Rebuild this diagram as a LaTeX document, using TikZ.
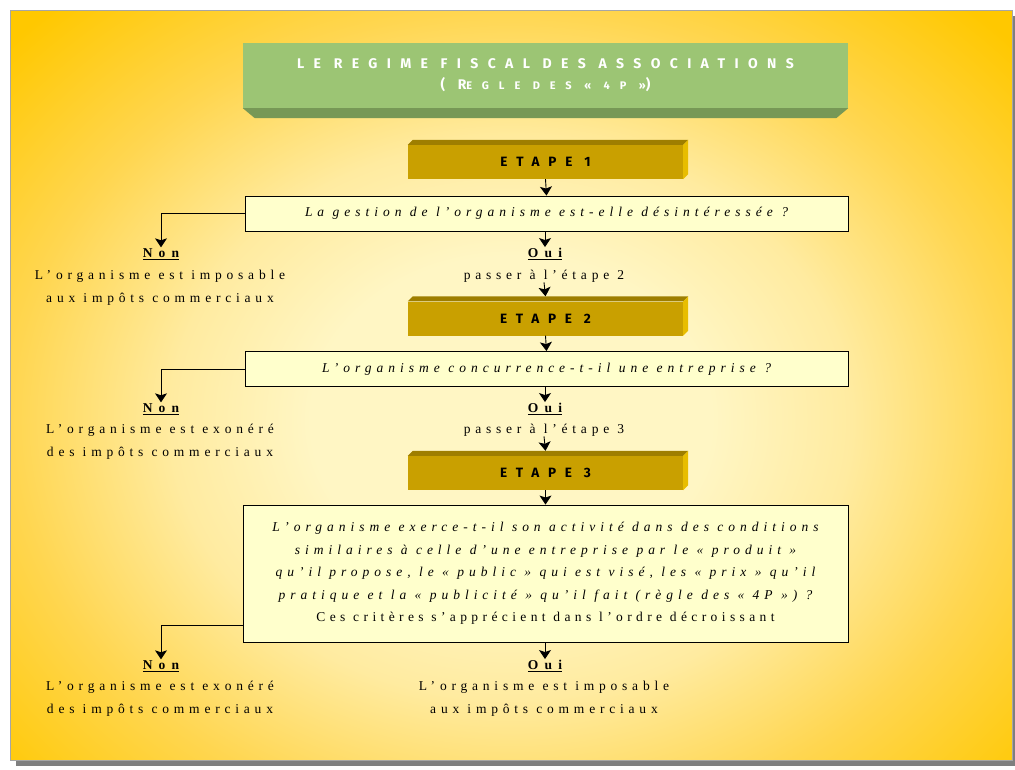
\documentclass[tikz,border=0pt]{standalone}
\usepackage{fontspec}
\setmainfont{Liberation Serif}
\newfontfamily\headfont{Fira Sans}
\usetikzlibrary{arrows.meta,calc}

\definecolor{goldA}{HTML}{FFC800}
\definecolor{goldN}{HTML}{FFD650}
\definecolor{goldM}{HTML}{FFEBA0}
\definecolor{paleC}{HTML}{FFF6C4}
\definecolor{greenF}{HTML}{9CC574}
\definecolor{greenB}{HTML}{779856}
\definecolor{etapeF}{HTML}{C9A000}
\definecolor{etapeT}{HTML}{9E7E00}
\definecolor{etapeS}{HTML}{E8BD00}
\definecolor{qfill}{HTML}{FFFFCC}
\definecolor{shadowG}{HTML}{7F7F7F}

\pgfdeclareradialshading{glow}{\pgfpoint{0bp}{0bp}}{%
  color(0bp)=(paleC); color(10bp)=(paleC); color(17bp)=(goldM); color(25bp)=(goldN);
  color(34bp)=(goldA); color(75bp)=(goldA)}

\tikzset{
  arr/.style={draw=black, line width=0.9pt, -{Stealth[length=9pt,width=12pt,inset=2pt]}},
  stagebox/.style={fill=etapeF, minimum width=275pt, minimum height=34pt, inner sep=0pt,
    font=\headfont\bfseries\fontsize{13.5}{16}\selectfont\addfontfeatures{LetterSpace=65}},
  qbox/.style={draw=black, line width=0.9pt, fill=qfill, minimum width=603pt, minimum height=35pt,
    inner sep=0pt, align=center},
  qtext/.style={inner sep=0pt, font=\fontsize{13.5}{15}\selectfont\itshape\addfontfeatures{LetterSpace=37}},
  answer/.style={inner sep=1pt, font=\fontsize{13.5}{15}\selectfont\bfseries\addfontfeatures{LetterSpace=46}},
  plain/.style={inner sep=0pt, align=center,
    font=\fontsize{13.5}{23}\selectfont\addfontfeatures{LetterSpace=35.5}},
}

\newcommand{\stagebevel}[1]{%
  \fill[etapeT] (#1.north west) -- (#1.north east) -- ++(5,-5) -- ($(#1.north west)+(5,-5)$) -- cycle;
  \fill[etapeS] (#1.north east) -- (#1.south east) -- ++(5,-5) -- ($(#1.north east)+(5,-5)$) -- cycle;}

\begin{document}
\begin{tikzpicture}[x=1pt,y=-1pt]
\useasboundingbox (0,0) rectangle (1015,769);

% page panel with drop shadow and glowing centre (glow centred a little low)
\fill[shadowG] (16,16) rectangle (1016,766);
\begin{scope}
  \clip (10,10) rectangle (1012,760);
  \shade[shading=glow] (10,10) rectangle (1012,830);
\end{scope}
\draw[gray!70, line width=0.6pt] (10,10) rectangle (1012,760);

% title banner
\node[fill=greenF, minimum width=605pt, minimum height=65pt, inner sep=0pt, align=center,
      text=white, font=\headfont\bfseries\fontsize{14}{21}\selectfont\addfontfeatures{LetterSpace=67}]
  (title) at (545.5,75.5)
  {LE REGIME FISCAL DES ASSOCIATIONS\\
   {\addfontfeatures{LetterSpace=90}(R{\fontsize{11}{21}\selectfont EGLE DES « 4P »})}};
\fill[greenB] (title.south west) -- (title.south east) -- ++(-12,10)
  -- ($(title.south west)+(12,10)$) -- cycle;

% step 1
\node[stagebox] (s1) at (545.5,162) {ETAPE 1};
\stagebevel{s1}
\node[qbox] (q1) at (546.5,213.5) {\tikz[baseline]\node[qtext,anchor=base]{La gestion de l’organisme est-elle désintéressée ?};};
\node[answer] (n1) at (161,254) {\underline{Non}};
\node[answer] (o1) at (545,254) {\underline{Oui}};
\node[plain] (nt1) at (160,288) {L’organisme est imposable\\aux impôts commerciaux};
\node[plain] (ot1) at (544,276) {passer à l’étape 2};

% step 2
\node[stagebox] (s2) at (545.5,318.5) {ETAPE 2};
\stagebevel{s2}
\node[qbox] (q2) at (546.5,369) {\tikz[baseline]\node[qtext,anchor=base]{L’organisme concurrence-t-il une entreprise ?};};
\node[answer] (n2) at (161,409) {\underline{Non}};
\node[answer] (o2) at (545,409) {\underline{Oui}};
\node[plain] (nt2) at (160,441.5) {L’organisme est exonéré\\des impôts commerciaux};
\node[plain] (ot2) at (544,430) {passer à l’étape 3};

% step 3
\node[stagebox] (s3) at (545.5,473) {ETAPE 3};
\stagebevel{s3}
\node[qbox, minimum width=605pt, minimum height=137pt,
      font=\fontsize{13.5}{22.5}\selectfont] (q3) at (545.5,573.5)
  {{\itshape\addfontfeatures{LetterSpace=37}L’organisme exerce-t-il son activité dans des conditions}\\
   {\itshape\addfontfeatures{LetterSpace=37}similaires à celle d’une entreprise par le « produit »}\\
   {\itshape\addfontfeatures{LetterSpace=37}qu’il propose, le « public » qui est visé, les « prix » qu’il}\\
   {\itshape\addfontfeatures{LetterSpace=37}pratique et la « publicité » qu’il fait (règle des « 4P ») ?}\\
   {\addfontfeatures{LetterSpace=32.5}Ces critères s’apprécient dans l’ordre décroissant}};
\node[answer] (n3) at (161,666) {\underline{Non}};
\node[answer] (o3) at (545,666) {\underline{Oui}};
\node[plain] (nt3) at (160,698.5) {L’organisme est exonéré\\des impôts commerciaux};
\node[plain] (ot3) at (544,698.5) {L’organisme est imposable\\aux impôts commerciaux};

% connectors
\draw[arr] (s1.south) -- (q1.north);
\draw[arr] (q1.south -| o1) -- (o1.north);
\draw[arr] (q1.west) -| (n1.north);
\draw[arr] (ot1.south) -- ($(s2.north)+(0,-5)$);
\draw[arr] (s2.south) -- (q2.north);
\draw[arr] (q2.south -| o2) -- (o2.north);
\draw[arr] (q2.west) -| (n2.north);
\draw[arr] (ot2.south) -- ($(s3.north)+(0,-5)$);
\draw[arr] (s3.south) -- (q3.north);
\draw[arr] (q3.south -| o3) -- (o3.north);
\draw[arr] ([yshift=-51.5pt]q3.west) -| (n3.north);
\end{tikzpicture}
\end{document}
